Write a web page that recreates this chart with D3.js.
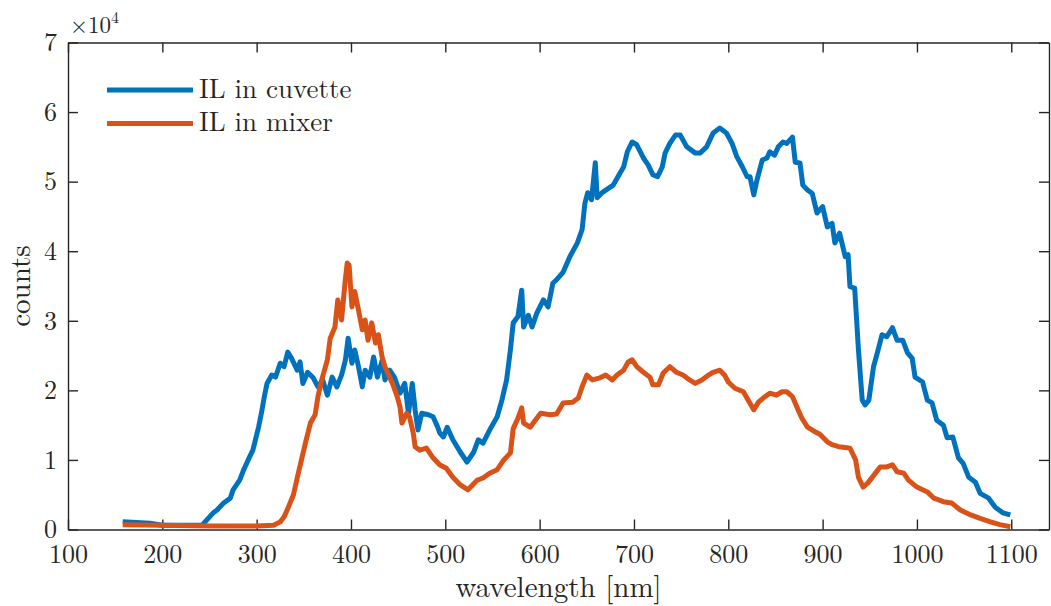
<!doctype html>
<html>
<head>
<meta charset="utf-8"/>
<title>IL spectra</title>
<script src="https://d3js.org/d3.v7.min.js"></script>
<style>
body{margin:0;background:#fff;}
</style>
</head>
<body>
<script type="text/javascript">
// spectra (counts)
var cuvetteNm = [158,187,200,242,246,254,258,265,272,275,282,286,291,296,302,305,308,311,316,320,325,329,333,337,343,346,349,354,360,365,370,375,380,385,390,394,397,401,404,408,412,415,420,424,428,433,436,441,446,452,457,461,465,468,471,475,482,487,492,494,498,502,508,516,523,530,535,540,547,555,560,565,569,572,577,581,583,588,592,597,604,609,614,618,625,632,640,645,648,651,655,659,661,667,678,683,689,693,698,703,710,715,720,725,730,733,738,744,749,756,765,770,777,784,791,798,804,809,815,820,823,827,830,836,841,844,849,853,858,862,868,871,876,879,884,889,894,900,905,910,913,918,924,927,929,934,938,942,945,949,954,958,963,968,974,979,985,990,995,998,1006,1011,1016,1021,1028,1032,1038,1044,1049,1055,1062,1067,1076,1083,1091,1099];
var cuvetteCounts = [1100,900,600,600,1200,2400,2800,3800,4500,5700,7100,8500,10000,11400,14700,16700,19000,21000,22200,21900,23900,23400,25500,24600,22900,24100,21000,22600,21800,20500,21500,19300,21900,20500,22200,24300,27500,23900,25800,23400,20500,22900,21900,24800,21900,24300,21500,22900,21900,19600,21000,16700,21000,17200,14300,16700,16500,16200,14700,13900,13300,14700,12900,11100,9700,11100,12900,12400,14300,16200,18600,21500,25800,29700,30600,34400,29100,30800,29100,31100,33000,32000,35400,35900,37000,39200,41200,43100,46900,48400,47400,52700,47700,48500,49500,50700,52100,54300,55700,55300,53400,52400,51000,50700,52100,54100,55500,56700,56700,55000,54100,54100,55000,57000,57700,57000,55500,53600,52100,50700,50700,48100,50000,53100,53400,54300,53800,55000,55700,55500,56400,52800,52700,49500,48800,48300,45500,46400,43500,44000,41200,42600,39200,39500,34900,34700,25800,18600,17900,18600,23400,25400,28000,27700,29000,27200,27200,25400,24600,21900,21200,18600,18200,15700,15000,13200,13300,10300,9500,7500,6800,5200,4500,3200,2400,2100];

var mixerNm = [158,200,250,300,318,325,329,333,339,344,348,352,357,362,365,369,375,378,383,386,390,394,396,398,401,404,408,412,415,418,422,426,429,433,436,439,444,449,452,454,459,462,466,468,473,480,487,494,501,508,516,524,534,540,547,555,562,569,572,577,581,583,590,597,601,611,618,625,635,641,645,650,656,664,670,677,682,689,694,698,703,710,717,720,726,731,738,745,752,759,765,772,779,784,791,796,800,807,816,821,827,832,837,844,851,857,862,868,874,878,884,890,897,905,910,917,924,929,935,938,943,948,956,961,968,974,979,986,991,1000,1011,1018,1028,1037,1046,1057,1067,1078,1088,1099];
var mixerCounts = [700,600,500,500,600,1100,1800,3000,5000,8000,10300,12600,15300,16500,19100,21500,24400,27500,29100,33000,30100,35900,38300,38000,32000,34200,31500,28700,30100,27200,29700,26800,28000,24800,23400,22500,21000,19100,17600,15300,16700,16200,13900,11900,11400,11700,10300,9300,8800,7500,6400,5700,7100,7400,8100,8600,10000,11000,14500,16000,17500,15300,14700,16000,16700,16500,16600,18200,18300,18900,20500,22200,21500,21800,22200,21500,22200,22900,24100,24400,23400,22600,21900,20800,20800,22500,23400,22600,22200,21500,21000,21500,22200,22600,22900,22200,21200,20300,19800,18600,17200,18300,18900,19600,19300,19800,19800,19100,17200,16000,14700,14200,13700,12600,12200,11900,11800,11700,10000,7500,6100,6700,8100,9000,9000,9300,8300,8100,7100,6100,5400,4500,4000,3800,2800,2100,1600,1100,700,400];

var seriesNames = ["IL in cuvette", "IL in mixer"];
var seriesColors = ["#0072BD", "#D95319"];
var xTicks = [100,200,300,400,500,600,700,800,900,1000,1100];
var yTicks = [0,10000,20000,30000,40000,50000,60000,70000];

var fontFam = "'Latin Modern Roman','CMU Serif','Liberation Serif',serif";
var W = 1051, H = 606;
var L = 68, T = 42.5, R = 1049, B = 529.5;

var svg = d3.select("body").append("svg")
    .attr("width", W)
    .attr("height", H)
    .style("font-family", fontFam);

var x = d3.scaleLinear().domain([100, 1140]).range([L, R]);
var y = d3.scaleLinear().domain([0, 70000]).range([B, T]);

// axes, ticks pointing inward
function styleAxis(g) {
  g.attr("font-family", fontFam);
  g.select(".domain").attr("stroke", "#262626").attr("stroke-width", 1.4);
  g.selectAll(".tick line").attr("stroke", "#262626").attr("stroke-width", 1.4);
  g.selectAll(".tick text").attr("fill", "#262626");
}

svg.append("g")
  .attr("transform", "translate(0," + B + ")")
  .call(d3.axisBottom(x).tickValues(xTicks).tickSize(-10).tickSizeOuter(0).tickPadding(15)
        .tickFormat(d3.format("d")))
  .attr("font-size", 26)
  .call(styleAxis);

svg.append("g")
  .attr("transform", "translate(0," + T + ")")
  .call(d3.axisTop(x).tickValues(xTicks).tickSize(-10).tickSizeOuter(0).tickFormat(""))
  .call(styleAxis);

svg.append("g")
  .attr("transform", "translate(" + L + ",0)")
  .call(d3.axisLeft(y).tickValues(yTicks).tickSize(-10).tickSizeOuter(0).tickPadding(11)
        .tickFormat(function(d){ return d / 10000; }))
  .attr("font-size", 26)
  .call(styleAxis);

svg.append("g")
  .attr("transform", "translate(" + R + ",0)")
  .call(d3.axisRight(y).tickValues(yTicks).tickSize(-10).tickSizeOuter(0).tickFormat(""))
  .call(styleAxis);

// exponent label
var expo = svg.append("text")
  .attr("x", 70).attr("y", 33)
  .attr("font-size", 23)
  .attr("fill", "#262626");
expo.append("tspan").text("\u00d710");
expo.append("tspan").attr("font-size", 16).attr("dy", -10).text("4");

// axis labels
svg.append("text")
  .attr("x", (L + R) / 2).attr("y", 597)
  .attr("text-anchor", "middle")
  .attr("font-size", 29)
  .attr("fill", "#262626")
  .text("wavelength [nm]");

svg.append("text")
  .attr("transform", "translate(30," + (T + B) / 2 + ") rotate(-90)")
  .attr("text-anchor", "middle")
  .attr("font-size", 29)
  .attr("fill", "#262626")
  .text("counts");

// lines
var line = d3.line()
  .x(function(d){ return x(d[0]); })
  .y(function(d){ return y(d[1]); });

var series = [
  d3.zip(cuvetteNm, cuvetteCounts),
  d3.zip(mixerNm, mixerCounts)
];

series.forEach(function(s, i) {
  svg.append("path")
    .datum(s)
    .attr("d", line)
    .attr("fill", "none")
    .attr("stroke", seriesColors[i])
    .attr("stroke-width", 5)
    .attr("stroke-linejoin", "round");
});

// legend
seriesNames.forEach(function(name, i) {
  var ly = 90 + i * 33.5;
  svg.append("line")
    .attr("x1", 107).attr("x2", 193)
    .attr("y1", ly).attr("y2", ly)
    .attr("stroke", seriesColors[i])
    .attr("stroke-width", 5);
  svg.append("text")
    .attr("x", 199).attr("y", ly + 7.5)
    .attr("font-size", 27)
    .attr("fill", "#262626")
    .text(name);
});
</script>
</body>
</html>
